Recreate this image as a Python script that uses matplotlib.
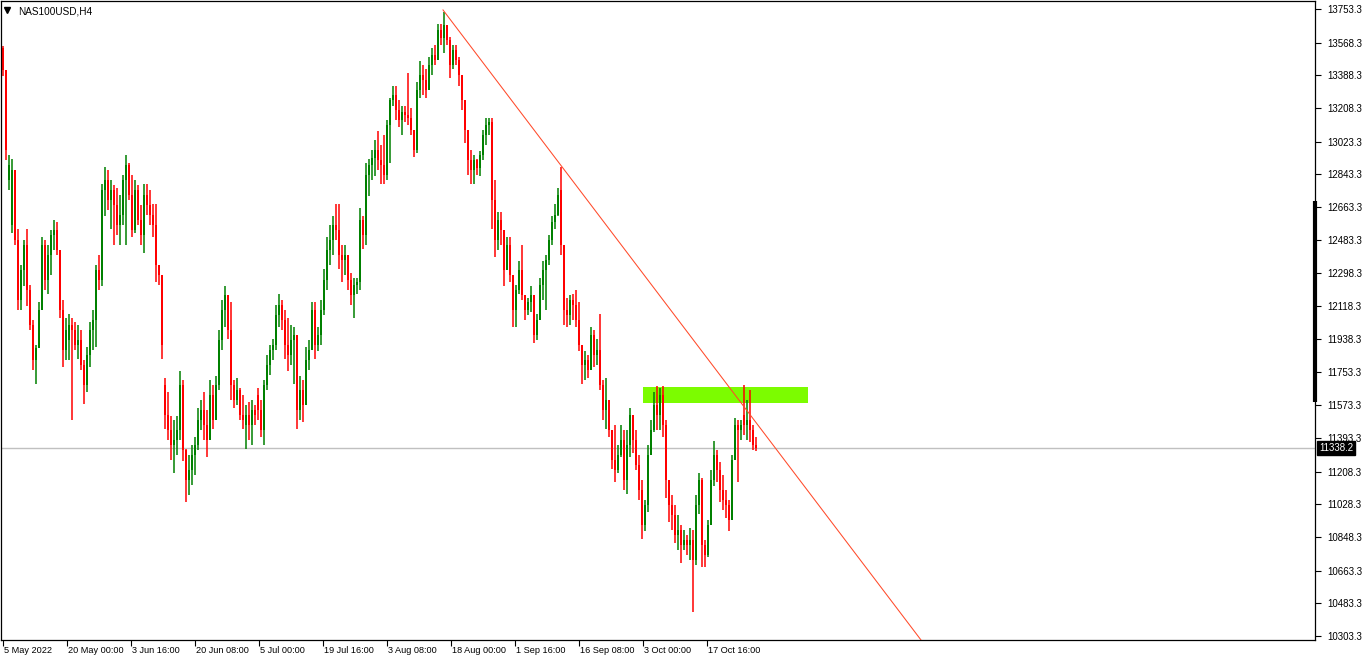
import numpy as np
import matplotlib.pyplot as plt
import matplotlib.transforms as mtransforms
from matplotlib.patches import Rectangle

plt.rcParams['font.family'] = ['Liberation Sans', 'DejaVu Sans']

# NAS100USD H4 candles (each candle here = 3 H4 bars)
opens = [
    13539, 13418, 12813, 12566, 12868, 12483, 12153, 12318, 12456, 12208,
    12016, 11823, 11889, 12098, 12456, 12263, 12400, 12511, 12538, 12428,
    12098, 11878, 11933, 12016, 11988, 11906, 11933, 11796, 11686, 11851,
    11988, 12043, 12318, 12263, 12758, 12813, 12703, 12758, 12676, 12566,
    12621, 12813, 12896, 12731, 12538, 12758, 12593, 12511, 12731, 12676,
    12621, 12566, 12346, 12291, 11686, 11521, 11438, 11356, 11383, 11438,
    11686, 11328, 11163, 11218, 11300, 11356, 11493, 11548, 11466, 11383,
    11631, 11493, 11686, 11933, 12098, 12181, 11988, 11686, 11603, 11658,
    11521, 11466, 11521, 11466, 11548, 11631, 11548, 11438, 11686, 11796,
    11878, 11906, 12071, 12126, 12043, 11906, 11851, 11933, 11961, 11548,
    11658, 11576, 11823, 11878, 12098, 11906, 11961, 12098, 12263, 12428,
    12483, 12566, 12538, 12400, 12373, 12400, 12263, 12181, 12236, 12252,
    12593, 12511, 12841, 12896, 12934, 12978, 12923, 12896, 12841, 13116,
    13253, 13280, 13198, 13143, 13187, 13171, 13154, 13088, 12978, 13308,
    13391, 13363, 13308, 13446, 13501, 13473, 13638, 13594, 13666, 13583,
    13446, 13528, 13473, 13391, 13253, 13088, 12923, 12868, 12923, 12879,
    12951, 13061, 13116, 13132, 12703, 12483, 12593, 12538, 12318, 12456,
    12291, 12098, 12208, 12318, 12181, 12098, 12142, 12181, 11961, 12043,
    12236, 12318, 12373, 12483, 12582, 12621, 12758, 12456, 12098, 12071,
    12153, 12126, 12043, 11906, 11796, 11823, 11768, 11961, 11851, 11878,
    11686, 11548, 11603, 11438, 11273, 11218, 11300, 11383, 11163, 11356,
    11521, 11383, 11246, 11108, 10916, 11026, 11300, 11438, 11576, 11521,
    11631, 11466, 11163, 11026, 10971, 10861, 10888, 10806, 10833, 10806,
    10833, 10723, 11026, 11163, 10806, 10751, 10916, 11163, 11300, 11218,
    11108, 11053, 11026, 10943, 11273, 11466, 11438, 11521, 11466, 11493,
    11438, 11356,
]
highs = [
    13550, 13418, 12951, 12929, 12758, 12544, 12346, 12483, 12544, 12236,
    12043, 11906, 12142, 12500, 12483, 12456, 12538, 12593, 12582, 12428,
    12153, 12054, 12076, 12054, 12032, 12016, 11988, 11823, 11895, 12032,
    12098, 12346, 12400, 12791, 12885, 12868, 12813, 12786, 12769, 12731,
    12841, 12951, 12907, 12841, 12813, 12786, 12676, 12791, 12791, 12758,
    12681, 12681, 12346, 12252, 11724, 11647, 11515, 11493, 11515, 11763,
    11713, 11334, 11300, 11356, 11400, 11559, 11603, 11647, 11548, 11713,
    11686, 11735, 11988, 12153, 12230, 12153, 12142, 11713, 11724, 11669,
    11631, 11576, 11592, 11603, 11576, 11669, 11603, 11713, 11851, 11906,
    11939, 12126, 12186, 12153, 12098, 12054, 12016, 12005, 11939, 11735,
    11713, 11895, 11933, 12142, 12142, 12005, 12153, 12324, 12500, 12566,
    12615, 12681, 12681, 12456, 12456, 12368, 12302, 12274, 12274, 12659,
    12615, 12907, 12929, 12978, 13033, 13083, 13006, 13061, 13143, 13264,
    13330, 13330, 13253, 13220, 13220, 13402, 13209, 13083, 13352, 13467,
    13445, 13424, 13490, 13539, 13556, 13671, 13671, 13737, 13644, 13600,
    13556, 13556, 13490, 13391, 13226, 13061, 12978, 12951, 12929, 12973,
    13088, 13154, 13154, 13154, 12813, 12637, 12637, 12538, 12500, 12500,
    12291, 12236, 12368, 12456, 12181, 12164, 12230, 12153, 12076, 12274,
    12368, 12400, 12511, 12615, 12681, 12769, 12885, 12456, 12164, 12181,
    12186, 12208, 12142, 11906, 11873, 11851, 12005, 11988, 11939, 12076,
    11713, 11724, 11603, 11438, 11466, 11356, 11466, 11438, 11438, 11559,
    11521, 11438, 11300, 11163, 11053, 11356, 11493, 11647, 11680, 11669,
    11680, 11493, 11163, 11081, 11026, 10971, 10916, 10888, 10861, 10899,
    10888, 11081, 11202, 11174, 10833, 10943, 11218, 11378, 11328, 11262,
    11191, 11108, 11053, 11300, 11504, 11493, 11493, 11686, 11603, 11658,
    11466, 11400,
]
lows = [
    13385, 12923, 12758, 12522, 12456, 12098, 12098, 12230, 12120, 11988,
    11768, 11691, 11895, 12153, 12208, 12186, 12291, 12428, 12400, 12054,
    11785, 11823, 11823, 11493, 11878, 11829, 11768, 11581, 11647, 11785,
    11878, 11895, 12208, 12230, 12615, 12648, 12544, 12456, 12511, 12456,
    12566, 12456, 12703, 12500, 12522, 12566, 12456, 12412, 12621, 12566,
    12500, 12252, 12236, 11829, 11444, 11383, 11273, 11202, 11300, 11383,
    11268, 11042, 11080, 11136, 11191, 11328, 11438, 11383, 11290, 11383,
    11444, 11515, 11658, 11878, 12005, 11939, 11603, 11559, 11576, 11493,
    11444, 11334, 11383, 11356, 11466, 11493, 11400, 11356, 11658, 11741,
    11823, 11878, 12005, 11988, 11829, 11763, 11796, 11691, 11444, 11493,
    11482, 11686, 11768, 11878, 11829, 11873, 11906, 12071, 12208, 12346,
    12400, 12483, 12324, 12252, 12291, 12208, 12126, 12054, 12186, 12208,
    12434, 12456, 12725, 12813, 12835, 12868, 12791, 12791, 12813, 12907,
    13220, 13143, 13105, 13061, 13132, 13116, 13061, 12940, 12962, 13264,
    13281, 13264, 13308, 13391, 13446, 13473, 13556, 13512, 13556, 13374,
    13424, 13446, 13330, 13198, 13017, 12841, 12791, 12791, 12841, 12835,
    12923, 13006, 13061, 12544, 12390, 12428, 12456, 12230, 12318, 12252,
    12005, 12005, 12186, 12153, 12043, 12071, 12087, 11917, 11933, 12043,
    12153, 12098, 12346, 12456, 12544, 12615, 12400, 12016, 12005, 12016,
    12043, 12005, 11873, 11691, 11713, 11724, 11768, 11785, 11796, 11658,
    11493, 11444, 11400, 11224, 11152, 11202, 11290, 11108, 11086, 11290,
    11312, 11218, 11053, 10839, 10883, 10987, 11300, 11427, 11438, 11438,
    11400, 11064, 10932, 10888, 10817, 10778, 10707, 10778, 10751, 10723,
    10437, 10696, 10976, 10685, 10685, 10740, 10971, 11130, 11152, 11042,
    10998, 10954, 10883, 10943, 11273, 11152, 11383, 11411, 11383, 11372,
    11328, 11322,
]
closes = [
    13418, 12978, 12896, 12868, 12483, 12153, 12318, 12456, 12208, 12016,
    11823, 11889, 12098, 12456, 12263, 12400, 12511, 12538, 12428, 12098,
    11878, 11988, 12016, 11988, 11906, 11933, 11796, 11686, 11851, 11988,
    12043, 12318, 12263, 12758, 12813, 12703, 12758, 12676, 12566, 12621,
    12813, 12896, 12731, 12538, 12758, 12593, 12511, 12731, 12676, 12621,
    12566, 12346, 12291, 11906, 11521, 11438, 11356, 11383, 11438, 11686,
    11328, 11163, 11218, 11300, 11356, 11493, 11548, 11466, 11383, 11631,
    11493, 11686, 11933, 12098, 12181, 11988, 11686, 11603, 11658, 11521,
    11493, 11521, 11466, 11548, 11521, 11548, 11438, 11686, 11796, 11878,
    11906, 12071, 12126, 12043, 11906, 11851, 11933, 11961, 11548, 11658,
    11576, 11823, 11878, 12098, 11906, 11961, 12098, 12263, 12428, 12483,
    12566, 12538, 12400, 12373, 12400, 12263, 12181, 12236, 12252, 12593,
    12511, 12841, 12896, 12934, 12978, 12923, 12896, 12841, 13116, 13253,
    13280, 13198, 13143, 13187, 13171, 13154, 13088, 12978, 13308, 13391,
    13363, 13308, 13446, 13501, 13473, 13638, 13594, 13666, 13583, 13446,
    13528, 13473, 13391, 13253, 13088, 12923, 12868, 12923, 12879, 12951,
    13061, 13116, 13132, 12703, 12483, 12593, 12538, 12318, 12456, 12291,
    12098, 12208, 12318, 12181, 12098, 12142, 12181, 11961, 12043, 12236,
    12318, 12373, 12483, 12582, 12621, 12731, 12456, 12098, 12071, 12153,
    12126, 12043, 11906, 11796, 11823, 11768, 11961, 11851, 11878, 11686,
    11548, 11603, 11438, 11273, 11218, 11300, 11383, 11163, 11356, 11521,
    11383, 11246, 11108, 10916, 11026, 11300, 11438, 11576, 11521, 11631,
    11466, 11163, 11026, 10971, 10861, 10888, 10806, 10833, 10806, 10833,
    10723, 11026, 11163, 10806, 10751, 10916, 11163, 11300, 11218, 11108,
    11053, 11026, 10943, 11273, 11466, 11438, 11466, 11466, 11493, 11438,
    11356, 11338.2,
]

price_ticks = [13753.3, 13568.3, 13388.3, 13208.3, 13023.3, 12843.3, 12663.3,
               12483.3, 12298.3, 12118.3, 11938.3, 11753.3, 11573.3, 11393.3,
               11208.3, 11028.3, 10848.3, 10663.3, 10483.3, 10303.3]
time_labels = ["5 May 2022", "20 May 00:00", "3 Jun 16:00", "20 Jun 08:00",
               "5 Jul 00:00", "19 Jul 16:00", "3 Aug 08:00", "18 Aug 00:00",
               "1 Sep 16:00", "16 Sep 08:00", "3 Oct 00:00", "17 Oct 16:00"]

last_price = 11338.2
# trend line anchors (bar, price) and supply zone
trend_a = (443, 13748)
trend_b = (562, 12885)
zone_bars = (643, 808)
zone_prices = (11586, 11674)

W, H = 1362, 660
fig = plt.figure(figsize=(W / 100, H / 100), dpi=100)
ax = fig.add_axes([1 / W, 1 - 640 / H, 1314 / W, 639 / H])

o = np.array(opens, float)
c = np.array(closes, float)
hi = np.maximum(np.array(highs, float), np.maximum(o, c))
lo = np.minimum(np.array(lows, float), np.minimum(o, c))
x = 3 + 3 * np.arange(len(c))
cols = np.where(c >= o, '#008000', '#ff0000')

ax.add_patch(Rectangle((zone_bars[0], zone_prices[0]), zone_bars[1] - zone_bars[0],
                       zone_prices[1] - zone_prices[0], facecolor='#7cfc00',
                       edgecolor='none', zorder=1))
ax.axhline(last_price, color='#c0c0c0', lw=1, zorder=1.5)
ax.vlines(x, lo, hi, colors=cols, linewidth=1.1, zorder=2)
ax.bar(x, np.maximum(np.abs(c - o), 8), bottom=np.minimum(o, c), width=2.9,
       color=cols, linewidth=0, zorder=2.5)

slope = (trend_b[1] - trend_a[1]) / (trend_b[0] - trend_a[0])
x_end = 1000
ax.plot([trend_a[0], x_end], [trend_a[1], trend_a[1] + slope * (x_end - trend_a[0])],
        color='#ff4a2a', lw=0.75, zorder=3)

ax.set_xlim(1, 1315)
ax.set_ylim(10281.5, 13797.3)

ax.yaxis.tick_right()
ax.set_yticks(price_ticks)
ax.set_yticklabels([f"{v:.1f}" for v in price_ticks])
ax.set_xticks(3 + 64 * np.arange(len(time_labels)))
ax.set_xticklabels(time_labels, ha='left')
ax.tick_params(axis='y', direction='out', length=4, width=0.8, pad=5, labelsize=7)
ax.tick_params(axis='x', direction='out', length=4, width=0.8, pad=0.5, labelsize=6.6)
for lab in ax.get_xticklabels():
    lab.set_transform(lab.get_transform() + mtransforms.ScaledTranslation(1 / 100, 0, fig.dpi_scale_trans))
for s in ax.spines.values():
    s.set_linewidth(0.9)
    s.set_color('black')

# current price tag and scale slider on the right
tr = mtransforms.blended_transform_factory(ax.transAxes, ax.transData)
ax.text(1.0 + 4 / 1314, last_price, "11338.2", transform=tr, ha='left', va='center',
        fontsize=7, color='white',
        bbox=dict(boxstyle='square,pad=0.2', fc='black', ec='black'), zorder=5)
ax.plot([1.0, 1.0], [11591, 12697], transform=tr, color='black', lw=3,
        clip_on=False, solid_capstyle='butt')

# symbol header
ax.plot([6 / 1314], [1 - 9 / 639], marker='v', ms=4.5, color='black',
        transform=ax.transAxes, clip_on=False)
ax.text(17 / 1314, 1 - 10 / 639, "NAS100USD,H4", transform=ax.transAxes,
        fontsize=7.2, color='black', va='center', ha='left')

fig.savefig('out.png', dpi=100)
